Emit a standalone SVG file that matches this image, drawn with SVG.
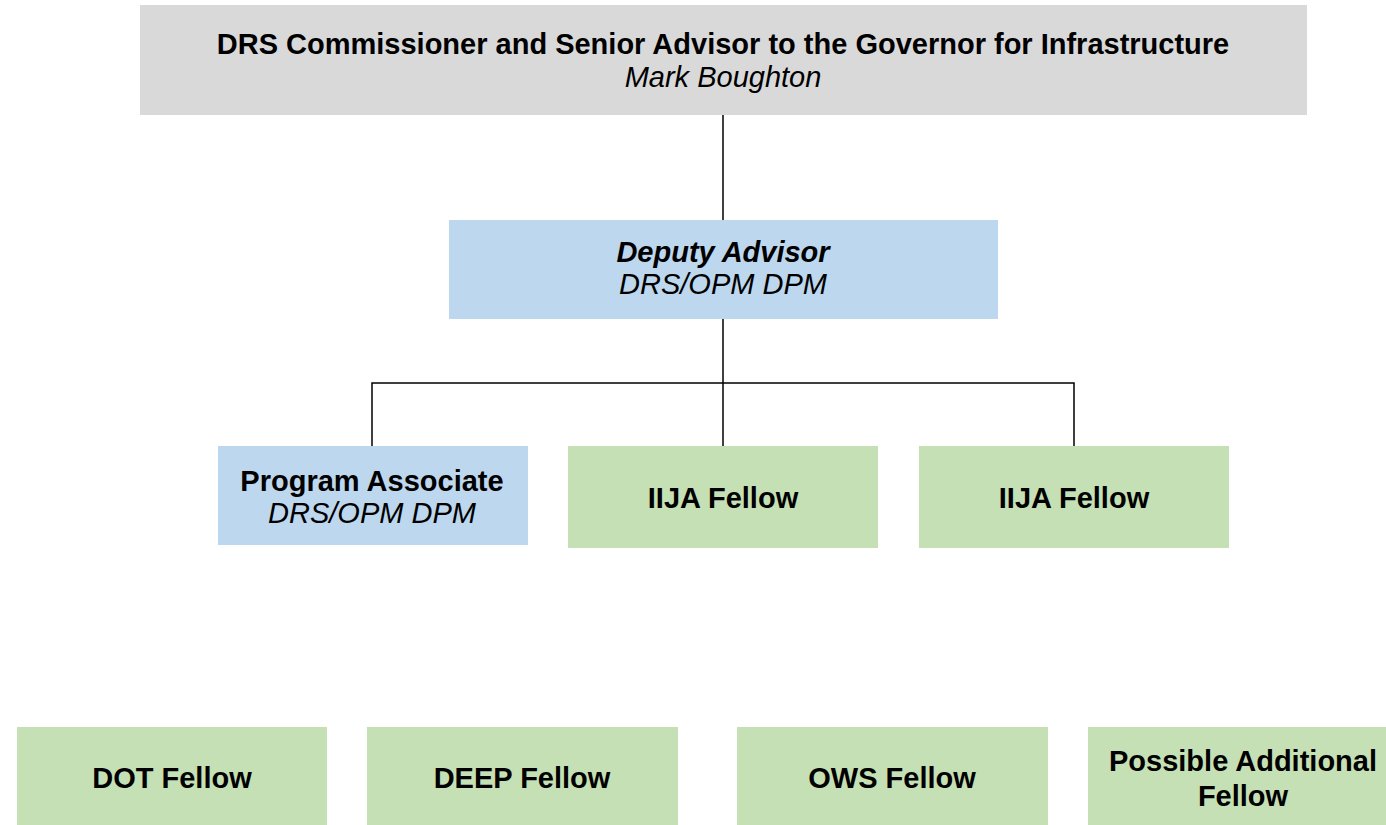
<svg xmlns="http://www.w3.org/2000/svg" width="1386" height="825" viewBox="0 0 1386 825">
  <style>
    text { font-family: "Liberation Sans", Arial, sans-serif; font-size: 29px; fill: #000; text-anchor: middle; }
    .b { font-weight: bold; }
    .i { font-style: italic; }
    .gray { fill: #d9d9d9; }
    .blue { fill: #bdd7ee; }
    .green { fill: #c5e0b4; }
    .conn { fill: none; stroke: #000; stroke-width: 1.5; }
  </style>
  <rect width="1386" height="825" fill="#fff"/>

  <!-- reporting lines -->
  <g id="connectors">
    <path class="conn" d="M723 115 V220"/>
    <path class="conn" d="M723 319 V446"/>
    <path class="conn" d="M372 446 V383 H1074 V446"/>
  </g>

  <g id="commissioner">
    <rect class="gray" x="140" y="5" width="1167" height="110"/>
    <text class="b" x="723" y="54">DRS Commissioner and Senior Advisor to the Governor for Infrastructure</text>
    <text class="i" x="723" y="87">Mark Boughton</text>
  </g>

  <g id="deputy-advisor">
    <rect class="blue" x="449" y="220" width="549" height="99"/>
    <text class="b i" x="723" y="262">Deputy Advisor</text>
    <text class="i" x="723" y="294">DRS/OPM DPM</text>
  </g>

  <g id="program-associate">
    <rect class="blue" x="218" y="446" width="310" height="99"/>
    <text class="b" x="372" y="491">Program Associate</text>
    <text class="i" x="372" y="523">DRS/OPM DPM</text>
  </g>

  <g id="iija-fellow-1">
    <rect class="green" x="568" y="446" width="310" height="102"/>
    <text class="b" x="723" y="508">IIJA Fellow</text>
  </g>

  <g id="iija-fellow-2">
    <rect class="green" x="919" y="446" width="310" height="102"/>
    <text class="b" x="1074" y="508">IIJA Fellow</text>
  </g>

  <g id="dot-fellow">
    <rect class="green" x="17" y="727" width="310" height="98"/>
    <text class="b" x="172" y="788">DOT Fellow</text>
  </g>

  <g id="deep-fellow">
    <rect class="green" x="367" y="727" width="311" height="98"/>
    <text class="b" x="522" y="788">DEEP Fellow</text>
  </g>

  <g id="ows-fellow">
    <rect class="green" x="737" y="727" width="311" height="98"/>
    <text class="b" x="892" y="788">OWS Fellow</text>
  </g>

  <g id="possible-additional-fellow">
    <rect class="green" x="1088" y="727" width="298" height="98"/>
    <text class="b" x="1243" y="771">Possible Additional</text>
    <text class="b" x="1243" y="806">Fellow</text>
  </g>
</svg>
